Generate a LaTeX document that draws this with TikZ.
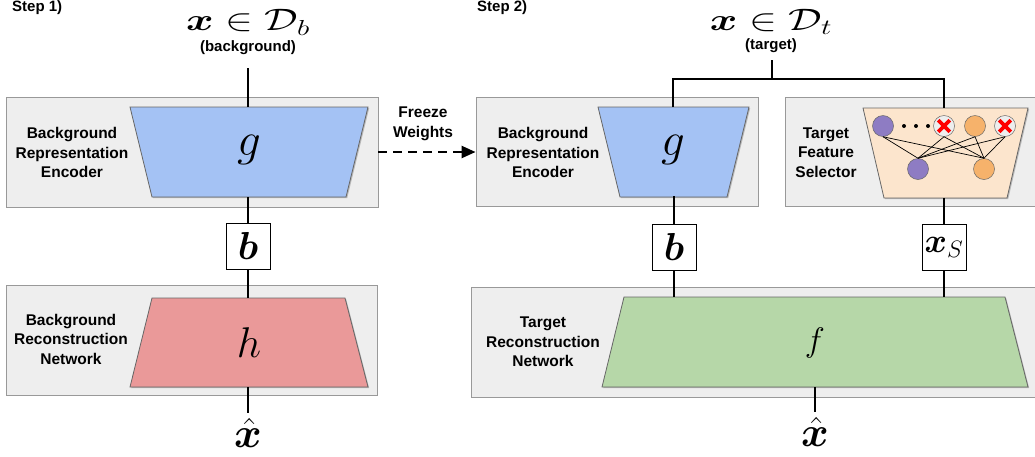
\RequirePackage{fix-cm}
\documentclass[tikz,border=0pt]{standalone}
\usepackage{amsmath}
\usepackage{bm}
\usepackage{graphicx}
\usepackage{fontspec}
\setmainfont{Liberation Sans}
\usetikzlibrary{arrows.meta}
\definecolor{panelfill}{HTML}{EEEEEE}
\definecolor{panelborder}{HTML}{999999}
\definecolor{trapborder}{HTML}{666666}
\definecolor{encblue}{HTML}{A4C2F4}
\definecolor{decred}{HTML}{EA9999}
\definecolor{decgreen}{HTML}{B6D7A8}
\definecolor{selpeach}{HTML}{FCE5CD}
\definecolor{nodepurple}{HTML}{8E7CC3}
\definecolor{nodeorange}{HTML}{F6B26B}
\definecolor{xred}{HTML}{FF0000}
\tikzset{
  panel/.style={draw=panelborder, fill=panelfill, line width=0.9pt},
  trap/.style={draw=trapborder, line width=0.8pt},
  trapshadow/.style={fill=black, opacity=0.22},
  lbl/.style={font=\fontsize{15.5}{19.5}\selectfont\bfseries, align=center, inner sep=0pt},
  steplbl/.style={font=\fontsize{15}{18}\selectfont\bfseries, inner sep=0pt, anchor=west},
  conn/.style={draw=black, line width=1.2pt},
  varbox/.style={draw=black, fill=white, line width=1pt, minimum width=44pt, minimum height=46pt, inner sep=0pt},
  mathlbl/.style={inner sep=0pt},
  neuron/.style={circle, draw=trapborder, line width=0.5pt, minimum size=21pt, inner sep=0pt},
  dropped/.style={neuron, fill=panelfill},
  edge/.style={draw=black, line width=0.7pt},
  freeze/.style={draw=black, line width=2.4pt, dash pattern=on 9pt off 6pt, -{Triangle[length=14pt, width=12pt]}}
}
\begin{document}
\begin{tikzpicture}[x=1pt, y=-1pt]
\useasboundingbox (0,0) rectangle (1035,456);

% ---------- Step 1 ----------
\node[steplbl] (step1) at (12,8) {Step 1)};
\node[mathlbl] (xin1) at (248,22.5) {\scalebox{1.35}[1]{\fontsize{31}{36}\selectfont$\bm{x}\in\mathcal{D}_b$}};
\node[lbl, font=\fontsize{15}{18}\selectfont\bfseries] (bglab) at (248,48) {(background)};

\node[panel, minimum width=372pt, minimum height=110pt, inner sep=0pt] (P1) at (192,152) {};
\node[panel, minimum width=371pt, minimum height=110pt, inner sep=0pt] (P2) at (191.5,340) {};

% encoder g
\fill[trapshadow] (131.2,108.2) -- (369.2,108.2) -- (347.2,198.2) -- (153.2,198.2) -- cycle;
\draw[trap, fill=encblue] (130,107) -- (368,107) -- (346,197) -- (152,197) -- cycle;
\coordinate (g1top) at (248,107);
\coordinate (g1bot) at (248,197);
\node[mathlbl] (g1) at (249,150) {\fontsize{47}{50}\selectfont$g$};
\node[lbl] (enc1lab) at (72,152.5) {Background\\Representation\\Encoder};

% decoder h
\fill[trapshadow] (153.2,299.2) -- (346.2,299.2) -- (369.2,388.2) -- (131.2,388.2) -- cycle;
\draw[trap, fill=decred] (152,298) -- (345,298) -- (368,387) -- (130,387) -- cycle;
\coordinate (htop) at (248,298);
\coordinate (hbot) at (248,387);
\node[mathlbl] (h) at (249,342.5) {\fontsize{43}{48}\selectfont$h$};
\node[lbl] (dec1lab) at (71,339) {Background\\Reconstruction\\Network};

\node[varbox] (b1) at (248,246) {\fontsize{39}{44}\selectfont$\bm{b}$};
\node[mathlbl] (xhat1) at (248,433) {\fontsize{42}{46}\selectfont$\hat{\bm{x}}$};

\coordinate (in1) at (248,68);
\draw[conn] (in1) -- (g1top);
\draw[conn] (g1bot) -- (b1.north);
\draw[conn] (b1.south) -- (htop);
\draw[conn] (hbot) -- ([yshift=5pt]xhat1.north);

% ---------- freeze arrow ----------
\node[lbl] (freezelab) at (423,124) {Freeze\\Weights};

% ---------- Step 2 ----------
\node[steplbl] (step2) at (477,8) {Step 2)};
\node[mathlbl] (xin2) at (771,22) {\scalebox{1.35}[1]{\fontsize{31}{36}\selectfont$\bm{x}\in\mathcal{D}_t$}};
\node[lbl, font=\fontsize{15}{18}\selectfont\bfseries] (tglab) at (771,46) {(target)};

\node[panel, minimum width=282pt, minimum height=109pt, inner sep=0pt] (P3) at (617,151.5) {};
\draw[panel] (785,97) rectangle (1045,206);
\coordinate (P4w) at (785,151.5);
\draw[panel] (471,287) rectangle (1045,397);

\draw[freeze] (P1.east) -- (P1.east -| P3.west);

% encoder g (frozen)
\fill[trapshadow] (599.2,108.2) -- (750.2,108.2) -- (728.2,198.2) -- (621.2,198.2) -- cycle;
\draw[trap, fill=encblue] (598,107) -- (749,107) -- (727,197) -- (620,197) -- cycle;
\coordinate (g2top) at (673,107);
\coordinate (g2bot) at (673,197);
\node[mathlbl] (g2) at (673,150) {\fontsize{47}{50}\selectfont$g$};
\node[lbl] (enc2lab) at (543,152.5) {Background\\Representation\\Encoder};

% target feature selector
\fill[trapshadow] (864.2,109.2) -- (1029.2,109.2) -- (1008.2,199.2) -- (885.2,199.2) -- cycle;
\draw[trap, fill=selpeach] (863,108) -- (1028,108) -- (1007,198) -- (884,198) -- cycle;
\coordinate (stop) at (944,108);
\coordinate (sbot) at (944,198);
\node[lbl] (sellab) at (826,152.5) {Target\\Feature\\Selector};

\node[neuron, fill=nodepurple] (n1) at (883,126) {};
\node[dropped] (n2) at (944,126) {};
\node[neuron, fill=nodeorange] (n3) at (975,126) {};
\node[dropped] (n4) at (1005,126) {};
\node[neuron, fill=nodepurple] (m1) at (918,169) {};
\node[neuron, fill=nodeorange] (m2) at (984,169) {};
\foreach \n in {n1,n2,n3,n4}{
  \foreach \m in {m1,m2}{
    \draw[edge] (\n.south) -- (\m.north);
  }
}
\foreach \n in {n2,n4}{
  \draw[xred, line width=3.8pt] ([shift={(-5.8,-5.8)}]\n.center) -- ([shift={(5.8,5.8)}]\n.center);
  \draw[xred, line width=3.8pt] ([shift={(-5.8,5.8)}]\n.center) -- ([shift={(5.8,-5.8)}]\n.center);
}
\foreach \px [count=\i] in {904,916,928}{
  \fill[black] (\px,126) circle (2pt) coordinate (dot\i);
}

% target reconstruction f
\fill[trapshadow] (625.2,298.2) -- (1006.2,298.2) -- (1029.2,388.2) -- (603.2,388.2) -- cycle;
\draw[trap, fill=decgreen] (624,297) -- (1005,297) -- (1028,387) -- (602,387) -- cycle;
\coordinate (ftop) at (815,297);
\coordinate (fbot) at (815,387);
\node[mathlbl] (f) at (815,343) {\fontsize{34}{40}\selectfont$f$};
\node[lbl] (dec2lab) at (543,342) {Target\\Reconstruction\\Network};

\node[varbox] (b2) at (674,247) {\fontsize{39}{44}\selectfont$\bm{b}$};
\node[varbox] (xs) at (944,247) {\fontsize{34}{40}\selectfont$\bm{x}_S$};
\node[mathlbl] (xhat2) at (815,432) {\fontsize{42}{46}\selectfont$\hat{\bm{x}}$};

\coordinate (in2) at (772,60);
\coordinate (split) at (772,79);
\draw[conn] (in2) -- (split);
\draw[conn] (g2top) |- (split) -| (stop);
\draw[conn] (g2bot) -- (g2bot -| b2.north) -- (b2.north);
\draw[conn] (b2.south) -- (b2.south |- ftop);
\draw[conn] (sbot) -- (xs.north);
\draw[conn] (xs.south) -- (xs.south |- ftop);
\draw[conn] (fbot) -- ([yshift=5pt]xhat2.north);
\end{tikzpicture}
\end{document}
